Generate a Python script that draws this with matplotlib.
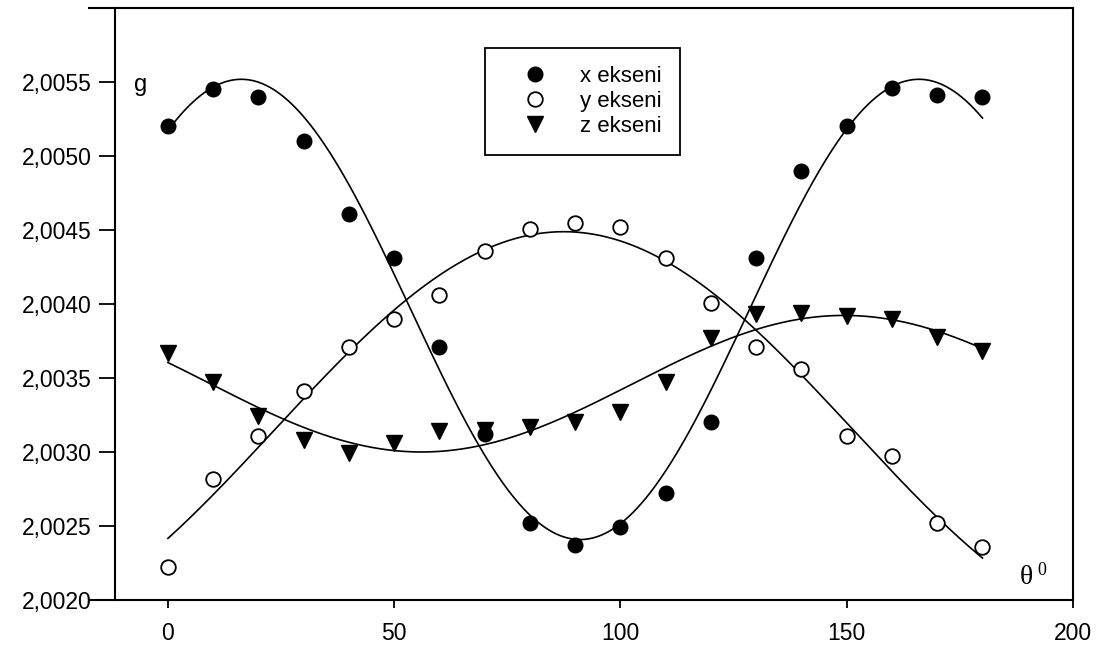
import numpy as np
import matplotlib
matplotlib.use("Agg")
import matplotlib.pyplot as plt
from matplotlib.ticker import FuncFormatter

plt.rcParams['font.family'] = ['Liberation Sans', 'DejaVu Sans']

# measured g values vs rotation angle (degrees)
theta = np.array([0, 10, 20, 30, 40, 50, 60, 70, 80, 90,
                  100, 110, 120, 130, 140, 150, 160, 170, 180])
g_x = np.array([2.00520, 2.00545, 2.00540, 2.00510, 2.00461, 2.00431, 2.00371,
                2.00312, 2.00252, 2.00237, 2.00249, 2.00272, 2.00320, 2.00431,
                2.00490, 2.00520, 2.00546, 2.00541, 2.00540])
g_y = np.array([2.00222, 2.00282, 2.00311, 2.00341, 2.00371, 2.00390, 2.00406,
                2.00436, 2.00451, 2.00455, 2.00452, 2.00431, 2.00401, 2.00371,
                2.00356, 2.00311, 2.00297, 2.00252, 2.00236])
g_z = np.array([2.00367, 2.00347, 2.00324, 2.00308, 2.00299, 2.00306, 2.00314,
                2.00315, 2.00317, 2.00320, 2.00327, 2.00347, 2.00377, 2.00393,
                2.00394, 2.00392, 2.00390, 2.00378, 2.00368])

labels = ['x ekseni', 'y ekseni', 'z ekseni']
y_ticks = [2.0020, 2.0025, 2.0030, 2.0035, 2.0040, 2.0045, 2.0050, 2.0055, 2.0060]
x_ticks = [0, 50, 100, 150, 200]


def sine_fit(x, y):
    # y = y0 + a*sin(w x) + b*cos(w x), period found by scanning
    y0 = y.mean()
    yc = y - y0
    best = None
    for period in np.linspace(100, 1000, 3601):
        w = 2 * np.pi / period
        A = np.column_stack([np.ones_like(x, dtype=float), np.sin(w * x), np.cos(w * x)])
        coef = np.linalg.lstsq(A, yc, rcond=None)[0]
        r = np.sum((A @ coef - yc) ** 2)
        if best is None or r < best[0]:
            best = (r, w, coef)
    _, w, coef = best
    return lambda t: y0 + coef[0] + coef[1] * np.sin(w * t) + coef[2] * np.cos(w * t)


fig = plt.figure(figsize=(11, 6.45), dpi=100)
ax = fig.add_axes([115 / 1100, 45 / 645, 958 / 1100, 592 / 645])

tt = np.linspace(0, 180, 400)
for g in (g_x, g_y, g_z):
    ax.plot(tt, sine_fit(theta, g)(tt), color='black', lw=1.2, zorder=2)

ms = 10.5
ax.plot(theta, g_x, 'o', color='black', ms=ms, mec='black', label=labels[0], zorder=3)
ax.plot(theta, g_y, 'o', mfc='white', mec='black', mew=1.3, ms=ms, label=labels[1], zorder=3)
ax.plot(theta, g_z, 'v', color='black', ms=ms + 1, label=labels[2], zorder=3)

ax.set_xlim(-11.7, 200)
ax.set_ylim(2.0020, 2.0060)
ax.set_xticks(x_ticks)
ax.set_yticks(y_ticks)
ax.yaxis.set_major_formatter(FuncFormatter(
    lambda v, p: '' if v > 2.00595 else f'{v:.4f}'.replace('.', ',')))
ax.tick_params(axis='y', direction='out', length=11.5, width=1.3, pad=5, labelsize=16.5)
ax.tick_params(axis='x', direction='out', length=6, width=1.3, pad=10, labelsize=16.5)
for s in ax.spines.values():
    s.set_linewidth(1.5)

# top and bottom frame lines run a little past the left axis
for yy in (0, 1):
    ax.plot([-0.028, 0], [yy, yy], transform=ax.transAxes, color='black',
            lw=1.5, clip_on=False, solid_capstyle='butt')

ax.text(-6, 2.00548, 'g', fontsize=17, ha='center', va='center')
ax.text(189.8, 2.00215, 'θ', fontsize=20, family='Liberation Serif', ha='center', va='center')
ax.text(193.2, 2.00220, '0', fontsize=13, family='Liberation Serif', ha='center', va='center')

leg = ax.legend(loc='upper left', bbox_to_anchor=(0.386, 0.932), fontsize=16,
                frameon=True, fancybox=False, edgecolor='black', framealpha=1,
                borderpad=0.8, labelspacing=0.18, handletextpad=0.6,
                borderaxespad=0, handlelength=2.9, markerscale=1.0)
leg.get_frame().set_linewidth(1.3)

fig.savefig('out.png', dpi=100)
